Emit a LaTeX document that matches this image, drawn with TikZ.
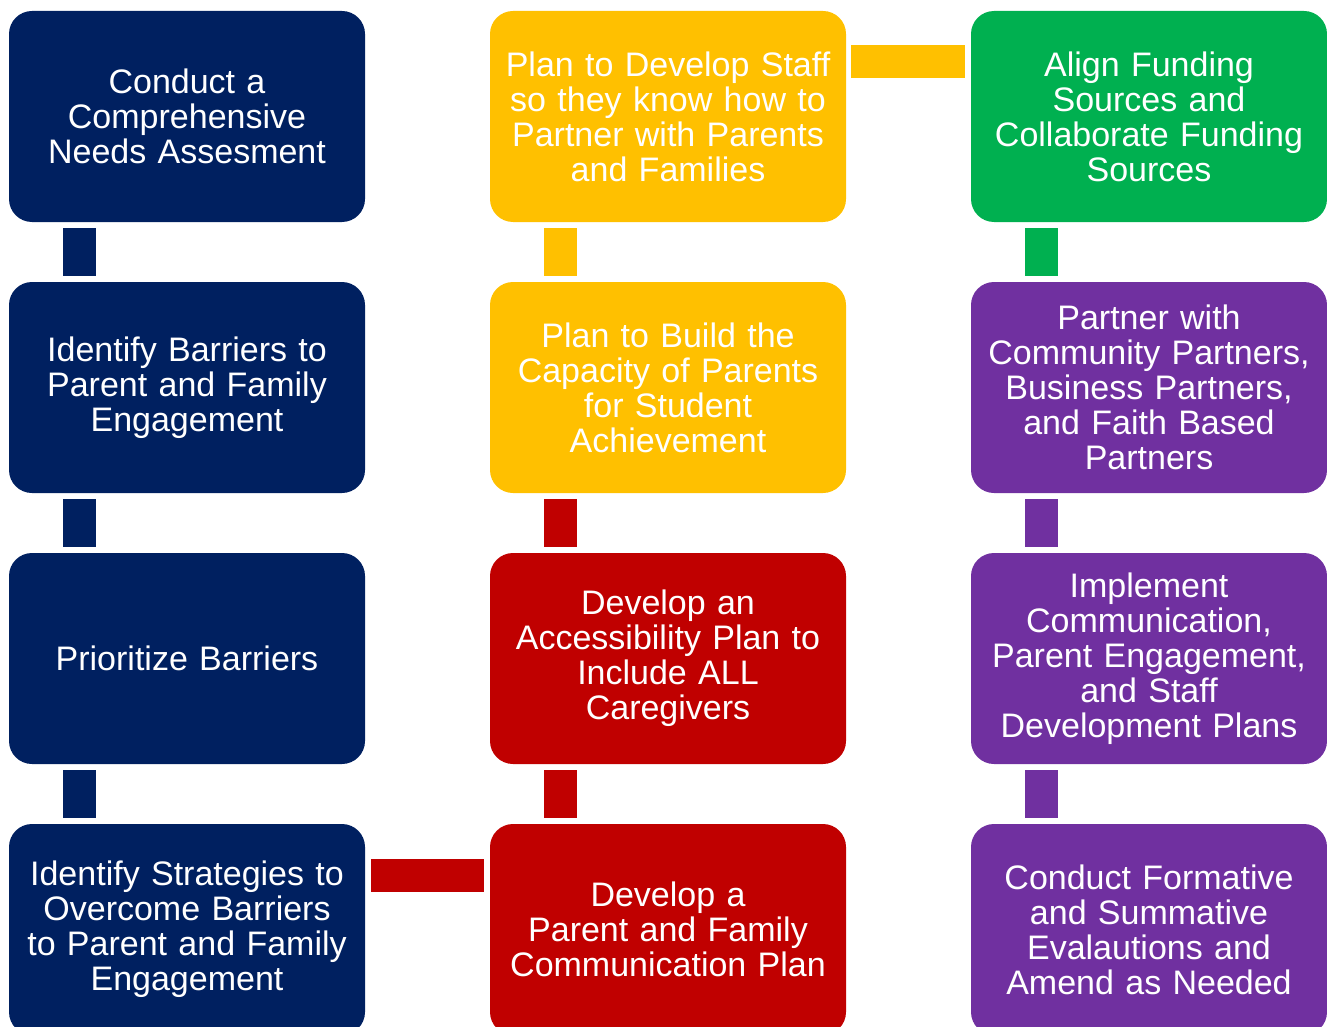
\documentclass[tikz,border=0pt]{standalone}
\usepackage{fontspec}
\setmainfont{Liberation Sans}
\definecolor{navy}{HTML}{002060}
\definecolor{gold}{HTML}{FFC000}
\definecolor{leaf}{HTML}{00B050}
\definecolor{crimson}{HTML}{C00000}
\definecolor{plum}{HTML}{7030A0}

\begin{document}
\begin{tikzpicture}[x=1pt,y=-1pt,
  box/.style={rectangle, rounded corners=23pt, fill=#1, text=white,
    minimum width=356pt, minimum height=211pt, text width=350pt,
    inner sep=0pt, align=center, font=\fontsize{34}{35}\selectfont},
  link/.style={color=#1, line width=33pt, shorten <=6pt, shorten >=6pt}]

\clip (0,0) rectangle (1327,1027);

% first column
\node[box=navy] (needs) at (187,116.5) {Conduct a\\Comprehensive\\Needs Assesment};
\node[box=navy] (barriers) at (187,387.5) {Identify Barriers to\\Parent and Family\\Engagement};
\node[box=navy] (prioritize) at (187,658.5) {Prioritize Barriers};
\node[box=navy] (strategies) at (187,929.5) {Identify Strategies to\\Overcome Barriers\\to Parent and Family\\Engagement};

% second column
\node[box=gold] (staff) at (668,116.5) {Plan to Develop Staff\\so they know how to\\Partner with Parents\\and Families};
\node[box=gold] (capacity) at (668,387.5) {Plan to Build the\\Capacity of Parents\\for Student\\Achievement};
\node[box=crimson] (access) at (668,658.5) {Develop an\\Accessibility Plan to\\Include ALL\\Caregivers};
\node[box=crimson] (commplan) at (668,929.5) {Develop a\\Parent and Family\\Communication Plan};

% third column
\node[box=leaf] (funding) at (1149,116.5) {Align Funding\\Sources and\\Collaborate Funding\\Sources};
\node[box=plum] (partners) at (1149,387.5) {Partner with\\Community Partners,\\Business Partners,\\and Faith Based\\Partners};
\node[box=plum] (implement) at (1149,658.5) {Implement\\Communication,\\Parent Engagement,\\and Staff\\Development Plans};
\node[box=plum] (evaluate) at (1149,929.5) {Conduct Formative\\and Summative\\Evalautions and\\Amend as Needed};

% vertical links
\draw[link=navy] ([xshift=-107.5pt]needs.south) -- ([xshift=-107.5pt]barriers.north);
\draw[link=navy] ([xshift=-107.5pt]barriers.south) -- ([xshift=-107.5pt]prioritize.north);
\draw[link=navy] ([xshift=-107.5pt]prioritize.south) -- ([xshift=-107.5pt]strategies.north);

\draw[link=gold] ([xshift=-107.5pt]staff.south) -- ([xshift=-107.5pt]capacity.north);
\draw[link=crimson] ([xshift=-107.5pt]capacity.south) -- ([xshift=-107.5pt]access.north);
\draw[link=crimson] ([xshift=-107.5pt]access.south) -- ([xshift=-107.5pt]commplan.north);

\draw[link=leaf] ([xshift=-107.5pt]funding.south) -- ([xshift=-107.5pt]partners.north);
\draw[link=plum] ([xshift=-107.5pt]partners.south) -- ([xshift=-107.5pt]implement.north);
\draw[link=plum] ([xshift=-107.5pt]implement.south) -- ([xshift=-107.5pt]evaluate.north);

% horizontal links
\draw[link=gold, shorten <=5pt] ([yshift=55pt]staff.east) -- ([yshift=55pt]funding.west);
\draw[link=crimson] ([yshift=54pt]strategies.east) -- ([yshift=54pt]commplan.west);

\end{tikzpicture}
\end{document}
